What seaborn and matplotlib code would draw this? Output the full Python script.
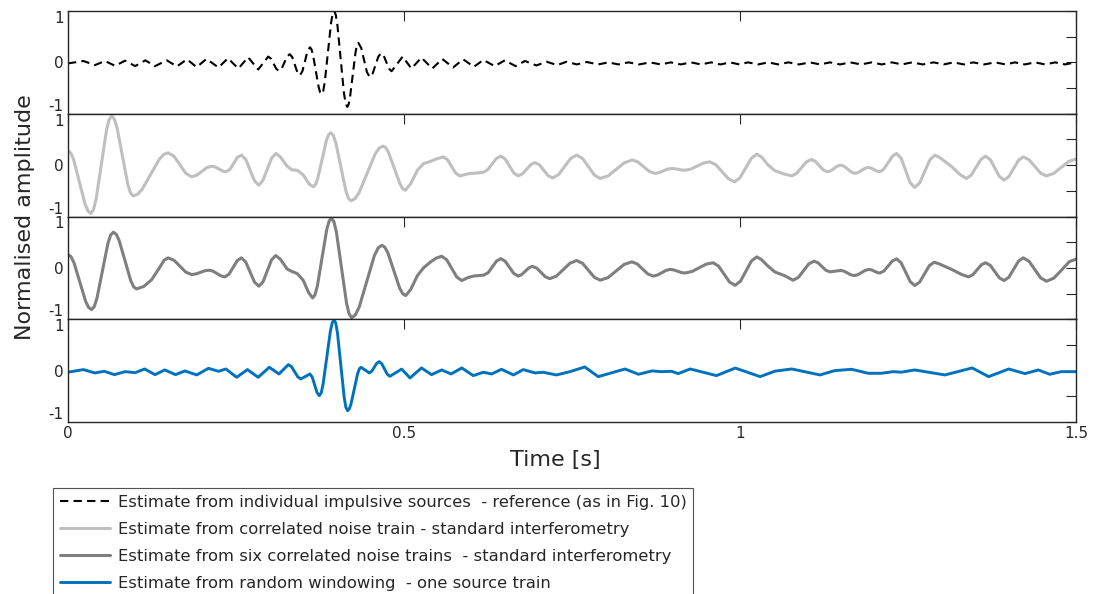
import pandas as pd
import matplotlib
matplotlib.use("Agg")
import matplotlib.pyplot as plt
import seaborn as sns

# readings (time [s], normalised amplitude): extrema + shoulder points
ref_pts = [
    (0.000, -0.02), (0.023, 0.027), (0.040, -0.053), (0.055, 0.027), (0.070, -0.067),
    (0.085, 0.033), (0.100, -0.073), (0.115, 0.04), (0.1295, -0.073), (0.147, 0.04),
    (0.162, -0.08), (0.177, 0.06), (0.1915, -0.093), (0.206, 0.067), (0.224, -0.10),
    (0.238, 0.08), (0.2535, -0.12), (0.268, 0.10), (0.283, -0.14), (0.298, 0.113),
    (0.302, 0.072), (0.310, -0.126), (0.314, -0.167), (0.318, -0.119), (0.326, 0.112),
    (0.330, 0.16), (0.3338, 0.10), (0.3413, -0.193), (0.345, -0.253), (0.3488, -0.173),
    (0.3563, 0.213), (0.360, 0.293), (0.3622, 0.258), (0.3644, 0.16), (0.3731, -0.487),
    (0.3753, -0.585), (0.3775, -0.62), (0.3798, -0.558), (0.3821, -0.383), (0.3914, 0.763),
    (0.3937, 0.938), (0.396, 1.0), (0.3984, 0.929), (0.4009, 0.727), (0.4106, -0.594),
    (0.4131, -0.796), (0.4155, -0.867), (0.4176, -0.82), (0.4196, -0.685), (0.4279, 0.198),
    (0.4299, 0.333), (0.432, 0.38), (0.4363, 0.283),
    (0.4448, -0.19), (0.449, -0.287), (0.4533, -0.219), (0.4618, 0.112), (0.466, 0.18),
    (0.4699, 0.128), (0.4776, -0.121), (0.4815, -0.173), (0.498, 0.113), (0.511, -0.12),
    (0.526, 0.093), (0.542, -0.12), (0.557, 0.067), (0.573, -0.10), (0.588, 0.06),
    (0.604, -0.087), (0.618, 0.047), (0.635, -0.073), (0.650, 0.04), (0.666, -0.073),
    (0.680, 0.027), (0.697, -0.06), (0.712, 0.013), (0.728, -0.053), (0.742, 0.013),
    (0.757, -0.04), (0.772, 0.007), (0.789, -0.04), (0.804, 0.0), (0.819, -0.04),
    (0.834, 0.0), (0.850, -0.04), (0.866, 0.0), (0.882, -0.04), (0.897, 0.0),
    (0.912, -0.04), (0.927, 0.0), (0.942, -0.04), (0.957, 0.0), (0.971, -0.04),
    (0.985, 0.0), (0.999, -0.04), (1.012, 0.0), (1.027, -0.04), (1.042, 0.0),
    (1.057, -0.04), (1.072, 0.0), (1.088, -0.04), (1.104, 0.0), (1.119, -0.04),
    (1.134, 0.0), (1.149, -0.04), (1.164, 0.0), (1.180, -0.04), (1.196, 0.0),
    (1.211, -0.04), (1.226, 0.0), (1.241, -0.04), (1.256, 0.0), (1.272, -0.04),
    (1.288, 0.0), (1.303, -0.04), (1.318, 0.0), (1.333, -0.04), (1.347, 0.0),
    (1.363, -0.04), (1.380, 0.0), (1.395, -0.04), (1.409, 0.0), (1.424, -0.04),
    (1.439, 0.0), (1.454, -0.04), (1.469, 0.0), (1.484, -0.04), (1.4985, 0.0),
    (1.500, -0.005),
]

one_train_pts = [
    (0.000, 0.28), (0.0043, 0.234), (0.0085, 0.102), (0.0255, -0.762), (0.0298, -0.894),
    (0.034, -0.94), (0.0379, -0.868), (0.0418, -0.663), (0.0573, 0.678), (0.0611, 0.883),
    (0.065, 0.955), (0.069, 0.896), (0.073, 0.728), (0.089, -0.373), (0.093, -0.541),
    (0.097, -0.60), (0.1035, -0.568), (0.110, -0.477), (0.136, 0.117), (0.1425, 0.208),
    (0.149, 0.24), (0.1578, 0.172), (0.1753, -0.159),
    (0.184, -0.227), (0.1915, -0.197), (0.2065, -0.05), (0.214, -0.02), (0.219, -0.036),
    (0.230, -0.114), (0.235, -0.13), (0.241, -0.083), (0.252, 0.148), (0.258, 0.195),
    (0.2645, 0.11), (0.2775, -0.305), (0.284, -0.39), (0.290, -0.30), (0.303, 0.137),
    (0.3095, 0.227), (0.316, 0.16), (0.326, -0.02), (0.333, -0.09), (0.341, -0.10),
    (0.350, -0.19), (0.359, -0.37), (0.365, -0.42), (0.3683, -0.38), (0.3715, -0.267),
    (0.3845, 0.477), (0.3878, 0.59), (0.391, 0.63), (0.3948, 0.58), (0.3985, 0.437),
    (0.4135, -0.502), (0.4173, -0.645), (0.421, -0.695), (0.427, -0.655), (0.433, -0.54),
    (0.457, 0.215), (0.463, 0.33), (0.469, 0.37), (0.4731, 0.337), (0.477, 0.244),
    (0.494, -0.364), (0.4979, -0.457), (0.502, -0.49),
    (0.510, -0.36), (0.520, -0.10), (0.529, 0.03), (0.539, 0.07), (0.548, 0.12),
    (0.5585, 0.16), (0.5646, 0.106), (0.5769, -0.156), (0.583, -0.21), (0.595, -0.17),
    (0.618, -0.14), (0.6245, -0.09), (0.6375, 0.129), (0.644, 0.175), (0.6505, 0.119),
    (0.6635, -0.154), (0.670, -0.21), (0.676, -0.172), (0.689, 0.012), (0.695, 0.05),
    (0.7015, 0.006), (0.7145, -0.206), (0.721, -0.25), (0.730, -0.185), (0.748, 0.13),
    (0.757, 0.195), (0.7658, 0.129), (0.7833, -0.194), (0.792, -0.26), (0.804, -0.207),
    (0.828, 0.047), (0.840, 0.10), (0.848, 0.062), (0.865, -0.122), (0.8735, -0.16),
    (0.8796, -0.146), (0.8919, -0.079), (0.898, -0.065), (0.903, -0.07), (0.913, -0.095),
    (0.918, -0.10), (0.927, -0.076), (0.946, 0.041), (0.955, 0.065), (0.964, 0.008),
    (0.983, -0.268), (0.992, -0.325), (1.000, -0.246), (1.017, 0.135), (1.025, 0.214),
    (1.032, 0.16), (1.042, 0.0), (1.052, -0.11), (1.065, -0.17), (1.077, -0.21),
    (1.084, -0.163), (1.099, 0.063), (1.106, 0.11), (1.112, 0.075), (1.124, -0.095),
    (1.1305, -0.13), (1.135, -0.111), (1.145, -0.019), (1.150, 0.0), (1.155, -0.023),
    (1.166, -0.137), (1.171, -0.16), (1.176, -0.143), (1.186, -0.062), (1.191, -0.045),
    (1.195, -0.057), (1.204, -0.118), (1.208, -0.13), (1.214, -0.078), (1.227, 0.175),
    (1.233, 0.227), (1.240, 0.13), (1.253, -0.338), (1.260, -0.435), (1.2675, -0.343),
    (1.2825, 0.103), (1.290, 0.195), (1.297, 0.15), (1.315, -0.03), (1.328, -0.19),
    (1.337, -0.26), (1.344, -0.196), (1.3585, 0.111), (1.3655, 0.175), (1.3724, 0.107),
    (1.3861, -0.222), (1.393, -0.29), (1.400, -0.224), (1.4144, 0.094), (1.4215, 0.16),
    (1.430, 0.106), (1.4474, -0.156), (1.456, -0.21), (1.467, -0.16), (1.489, 0.07),
    (1.500, 0.12),
]

six_trains_pts = [
    (0.000, 0.26), (0.0044, 0.219), (0.0088, 0.104), (0.0263, -0.654), (0.0306, -0.769),
    (0.035, -0.81), (0.0391, -0.753), (0.0431, -0.59), (0.0594, 0.475), (0.0634, 0.638),
    (0.0675, 0.695), (0.0718, 0.653), (0.0761, 0.534), (0.0934, -0.249), (0.0977, -0.368),
    (0.102, -0.41),
    (0.113, -0.36), (0.1245, -0.23), (0.137, 0.02), (0.143, 0.15), (0.149, 0.195),
    (0.1578, 0.148), (0.1753, -0.083), (0.184, -0.13), (0.1905, -0.118), (0.2035, -0.057),
    (0.210, -0.045), (0.2159, -0.064), (0.2276, -0.156), (0.2335, -0.175), (0.2396, -0.121),
    (0.2519, 0.141), (0.258, 0.195), (0.2645, 0.114), (0.2775, -0.276), (0.284, -0.357),
    (0.2903, -0.27), (0.3028, 0.153), (0.309, 0.24), (0.316, 0.17), (0.326, -0.02),
    (0.333, -0.07), (0.341, -0.11), (0.350, -0.24), (0.358, -0.48), (0.364, -0.585),
    (0.3675, -0.526), (0.371, -0.358), (0.385, 0.743), (0.3885, 0.911), (0.392, 0.97),
    (0.3958, 0.896), (0.3995, 0.687), (0.4145, -0.687), (0.4183, -0.896), (0.422, -0.97),
    (0.4276, -0.916), (0.4333, -0.764), (0.4558, 0.234), (0.4614, 0.386), (0.467, 0.44),
    (0.4714, 0.403), (0.4759, 0.297), (0.4936, -0.397), (0.4981, -0.503), (0.5025, -0.54),
    (0.510, -0.42), (0.520, -0.15), (0.529, 0.0),
    (0.540, 0.12), (0.548, 0.19), (0.556, 0.227), (0.5635, 0.158), (0.5785, -0.178),
    (0.586, -0.247), (0.595, -0.19), (0.603, -0.16), (0.619, -0.14), (0.6255, -0.09),
    (0.6375, 0.13), (0.644, 0.18), (0.6505, 0.13), (0.6635, -0.11), (0.670, -0.16),
    (0.675, -0.132), (0.686, 0.002), (0.691, 0.03), (0.6975, -0.005), (0.7105, -0.175),
    (0.717, -0.21), (0.727, -0.158), (0.747, 0.091), (0.757, 0.143), (0.7658, 0.087),
    (0.7833, -0.184), (0.792, -0.24), (0.8038, -0.188), (0.8273, 0.065), (0.839, 0.117),
    (0.847, 0.077), (0.863, -0.12), (0.871, -0.16), (0.877, -0.141), (0.890, -0.049),
    (0.896, -0.03), (0.9015, -0.04), (0.9125, -0.09), (0.918, -0.10), (0.9285, -0.071),
    (0.9495, 0.071), (0.960, 0.10), (0.968, 0.036), (0.9845, -0.276), (0.9926, -0.34),
    (1.0007, -0.259), (1.0169, 0.133), (1.025, 0.214), (1.032, 0.16), (1.042, 0.03),
    (1.052, -0.08), (1.066, -0.15), (1.079, -0.24), (1.0868, -0.186), (1.1023, 0.076),
    (1.110, 0.13), (1.116, 0.10), (1.128, -0.048), (1.134, -0.078), (1.150, -0.05),
    (1.155, -0.065), (1.165, -0.135), (1.170, -0.15), (1.1755, -0.132), (1.1865, -0.048),
    (1.192, -0.03), (1.196, -0.04), (1.204, -0.09), (1.208, -0.10), (1.2143, -0.06),
    (1.2268, 0.135), (1.233, 0.175), (1.2398, 0.099), (1.2533, -0.268), (1.260, -0.344),
    (1.2673, -0.278), (1.2818, 0.044), (1.289, 0.11), (1.296, 0.08), (1.315, -0.03),
    (1.330, -0.13), (1.340, -0.175), (1.3464, -0.135), (1.3591, 0.06), (1.3655, 0.10),
    (1.3724, 0.049), (1.3861, -0.196), (1.393, -0.247), (1.4001, -0.182), (1.4144, 0.13),
    (1.4215, 0.195), (1.4301, 0.129), (1.4474, -0.194), (1.456, -0.26), (1.467, -0.20),
    (1.478, -0.05), (1.490, 0.12), (1.500, 0.17),
]

rand_win_pts = [
    (0.000, -0.03), (0.023, 0.02), (0.040, -0.045), (0.054, -0.013), (0.069, -0.078),
    (0.085, -0.02), (0.100, -0.04), (0.114, 0.032), (0.1295, -0.078), (0.144, 0.013),
    (0.160, -0.078), (0.174, -0.006), (0.1915, -0.084), (0.209, 0.045), (0.224, -0.013),
    (0.235, 0.032), (0.251, -0.13), (0.267, 0.02), (0.283, -0.13), (0.2995, 0.065),
    (0.314, -0.065), (0.328, 0.117), (0.3326, 0.076), (0.3419, -0.121), (0.3465, -0.162),
    (0.360, -0.065), (0.3635, -0.127), (0.3705, -0.425), (0.374, -0.487), (0.3768, -0.431),
    (0.3795, -0.271), (0.3905, 0.774), (0.3933, 0.934), (0.396, 0.99), (0.3985, 0.923),
    (0.401, 0.732), (0.411, -0.522), (0.4135, -0.713), (0.416, -0.78), (0.4185, -0.748),
    (0.421, -0.657), (0.431, -0.058), (0.4335, 0.033), (0.436, 0.065), (0.4485, -0.045),
    (0.452, -0.013),
    (0.4594, 0.143), (0.463, 0.175), (0.467, 0.133), (0.475, -0.068), (0.479, -0.11),
    (0.4965, 0.03), (0.509, -0.143), (0.526, 0.052), (0.541, -0.078), (0.556, 0.013),
    (0.570, -0.065), (0.586, 0.052), (0.603, -0.097), (0.618, -0.032), (0.6305, -0.065),
    (0.645, 0.026), (0.663, -0.084), (0.6775, 0.02), (0.695, -0.045), (0.707, -0.032),
    (0.727, -0.084), (0.747, -0.02), (0.769, 0.071), (0.789, -0.117), (0.829, 0.032),
    (0.849, -0.071), (0.869, -0.006), (0.883, -0.02), (0.898, -0.013), (0.908, -0.058),
    (0.926, 0.032), (0.965, -0.097), (0.993, 0.05), (1.030, -0.117), (1.052, -0.01),
    (1.077, 0.032), (1.119, -0.084), (1.141, 0.0), (1.166, 0.026), (1.191, -0.052),
    (1.210, -0.052), (1.228, -0.02), (1.240, -0.03), (1.260, 0.013), (1.305, -0.084),
    (1.3455, 0.052), (1.370, -0.117), (1.400, 0.032), (1.424, -0.058), (1.444, 0.013),
    (1.461, -0.071), (1.478, -0.02), (1.500, -0.02),
]

labels = [
    "Estimate from individual impulsive sources  - reference (as in Fig. 10)",
    "Estimate from correlated noise train - standard interferometry",
    "Estimate from six correlated noise trains  - standard interferometry",
    "Estimate from random windowing  - one source train",
]
colors = ["black", "#bfbfbf", "#7f7f7f", "#0072bd"]
widths = [1.5, 2.2, 2.2, 2.1]
x_ticks = [0, 0.5, 1, 1.5]
x_ticklabels = ["0", "0.5", "1", "1.5"]
y_ticks = [-1, -0.5, 0, 0.5, 1]
y_ticklabels = ["-1", "", "0", "", "1"]

sns.set_style("white")
plt.rcParams["font.family"] = ["DejaVu Sans"]

W, H = 1110, 594
fig = plt.figure(figsize=(W / 100, H / 100), dpi=100)

ink = "0.15"
panel_h = 102.75
handles = []
for i, pts in enumerate([ref_pts, one_train_pts, six_trains_pts, rand_win_pts]):
    top = 11 + panel_h * i
    ax = fig.add_axes([68 / W, (H - top - panel_h) / H, 1008 / W, panel_h / H])
    df = pd.DataFrame(pts, columns=["t", "amp"])
    sns.lineplot(data=df, x="t", y="amp", ax=ax, color=colors[i], lw=widths[i],
                 estimator=None, sort=False, legend=False, label=labels[i])
    line = ax.lines[0]
    if i == 0:
        line.set_linestyle("--")
        line.set_dashes([4, 2.5])
    handles.append(line)

    ax.set_xlim(0, 1.5)
    ax.set_ylim(-1, 1)
    ax.set_xticks(x_ticks)
    ax.set_yticks(y_ticks)
    ax.set_yticklabels(y_ticklabels)
    ax.set_xlabel("")
    ax.set_ylabel("")
    ax.tick_params(direction="in", length=7, width=0.8, color=ink, labelcolor=ink,
                   top=True, right=True, labelsize=11, pad=3)
    if i < 3:
        ax.tick_params(labelbottom=False)
    else:
        ax.set_xticklabels(x_ticklabels)
    for sp in ax.spines.values():
        sp.set_color(ink)
        sp.set_linewidth(1.0)
    ylab = ax.get_yticklabels()
    ylab[0].set_va("bottom")
    ylab[-1].set_va("top")
    if ax.get_legend() is not None:
        ax.get_legend().remove()

fig.text(25 / W, 1 - 217 / H, "Normalised amplitude", rotation=90, ha="center",
         va="center", fontsize=16, color=ink)
fig.text(555 / W, 1 - 460 / H, "Time [s]", ha="center", va="center", fontsize=16, color=ink)

leg = fig.legend(handles, labels, loc="upper left", bbox_to_anchor=(53 / W, 1 - 488 / H),
                 fontsize=11.8, frameon=True, fancybox=False, edgecolor=ink,
                 borderpad=0.4, labelspacing=0.74, handlelength=3.1,
                 handletextpad=0.45, borderaxespad=0)
leg.get_frame().set_linewidth(0.8)
for txt in leg.get_texts():
    txt.set_color(ink)

fig.savefig("out.png", dpi=100)
